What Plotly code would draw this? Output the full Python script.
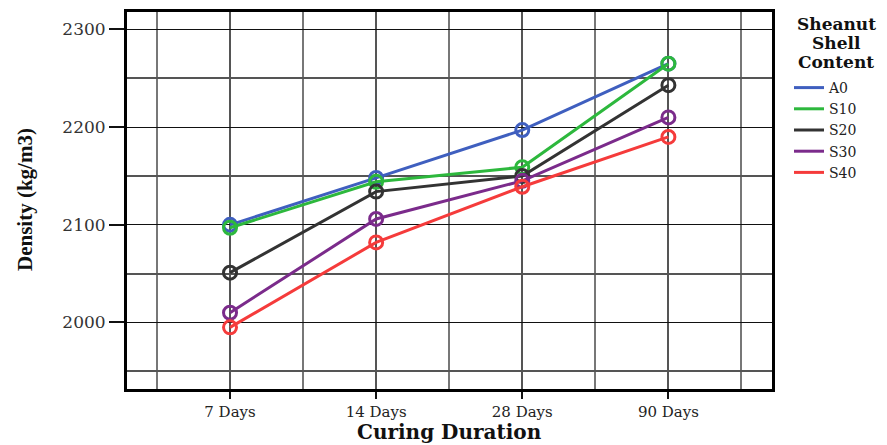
import plotly.graph_objects as go

categories = ["7 Days", "14 Days", "28 Days", "90 Days"]
series_names = ["A0", "S10", "S20", "S30", "S40"]
a0 = [2100, 2148, 2197, 2265]
s10 = [2097, 2144, 2159, 2265]
s20 = [2051, 2134, 2150, 2243]
s30 = [2010, 2106, 2145, 2210]
s40 = [1995, 2082, 2139, 2190]
series_values = [a0, s10, s20, s30, s40]
colors = ["#3f5fbf", "#2db83d", "#333333", "#7b2b8b", "#f53b3b"]
y_ticks = [2000, 2100, 2200, 2300]
legend_title_lines = ["Sheanut", "Shell", "Content"]

xpos = list(range(len(categories)))

# figure geometry (the page body has an 8px margin)
W, H = 879, 437
ML, MR, MT, MB = 119, 115, 4, 56
PW, PH = W - ML - MR, H - MT - MB
OFF = 8


def px_x(px):
    return (px - OFF - ML) / PW


def px_y(py):
    return (H - MB - (py - OFF)) / PH


fig = go.Figure()
for name, vals, col in zip(series_names, series_values, colors):
    fig.add_trace(go.Scatter(
        x=xpos, y=vals, mode="lines+markers", name=name, showlegend=False,
        line=dict(color=col, width=3),
        marker=dict(symbol="circle-open", size=13, color=col, line=dict(width=3, color=col)),
    ))
for name, col in zip(series_names, colors):
    fig.add_trace(go.Scatter(
        x=[None], y=[None], mode="lines", name=name, showlegend=True,
        line=dict(color=col, width=3),
    ))

serif = "DejaVu Serif"
annotations = []
for i, txt in enumerate(legend_title_lines):
    annotations.append(dict(
        text="<b>%s</b>" % txt, xref="paper", yref="paper",
        x=px_x(836), y=px_y(24 + 19 * i), xanchor="center", yanchor="middle",
        showarrow=False, font=dict(family=serif, size=17, color="#111"),
    ))
annotations.append(dict(
    text="<b>Density (kg/m3)</b>", xref="paper", yref="paper",
    x=px_x(25), y=px_y(200), xanchor="center", yanchor="middle", textangle=-90,
    showarrow=False, font=dict(family="Liberation Serif", size=21, color="#111"),
))
annotations.append(dict(
    text="<b>Curing Duration</b>", xref="paper", yref="paper",
    x=px_x(449), y=px_y(432), xanchor="center", yanchor="middle",
    showarrow=False, font=dict(family=serif, size=20, color="#111"),
))

fig.update_layout(
    width=W, height=H,
    margin=dict(l=ML, r=MR, t=MT, b=MB, autoexpand=False),
    paper_bgcolor="white", plot_bgcolor="white",
    font=dict(family=serif, color="#222", size=15),
    annotations=annotations,
    legend=dict(
        x=px_x(789), y=px_y(72), xanchor="left", yanchor="top",
        font=dict(family=serif, size=14, color="#222"),
        tracegroupgap=0, itemwidth=30,
    ),
    xaxis=dict(
        range=[-0.705, 3.709], tickvals=xpos, ticktext=categories, automargin=False,
        showgrid=True, gridcolor="#555", gridwidth=2,
        ticks="outside", ticklen=7, tickwidth=2, tickcolor="#111",
        showline=True, linecolor="#000", linewidth=3, mirror=True,
        tickfont=dict(family=serif, size=15, color="#222"),
        minor=dict(tick0=0.5, dtick=1, showgrid=True, gridcolor="#777", gridwidth=2, ticks=""),
        zeroline=False,
    ),
    yaxis=dict(
        range=[1931.9, 2317.9], tickvals=y_ticks, automargin=False,
        showgrid=True, gridcolor="#111", gridwidth=1,
        ticks="outside", ticklen=15, tickwidth=2, tickcolor="#111",
        showline=True, linecolor="#000", linewidth=3, mirror=True,
        tickfont=dict(family=serif, size=17, color="#333"),
        minor=dict(tick0=1950, dtick=100, showgrid=True, gridcolor="#555", gridwidth=2, ticks=""),
        zeroline=False,
    ),
)

fig.write_html("out.html")
